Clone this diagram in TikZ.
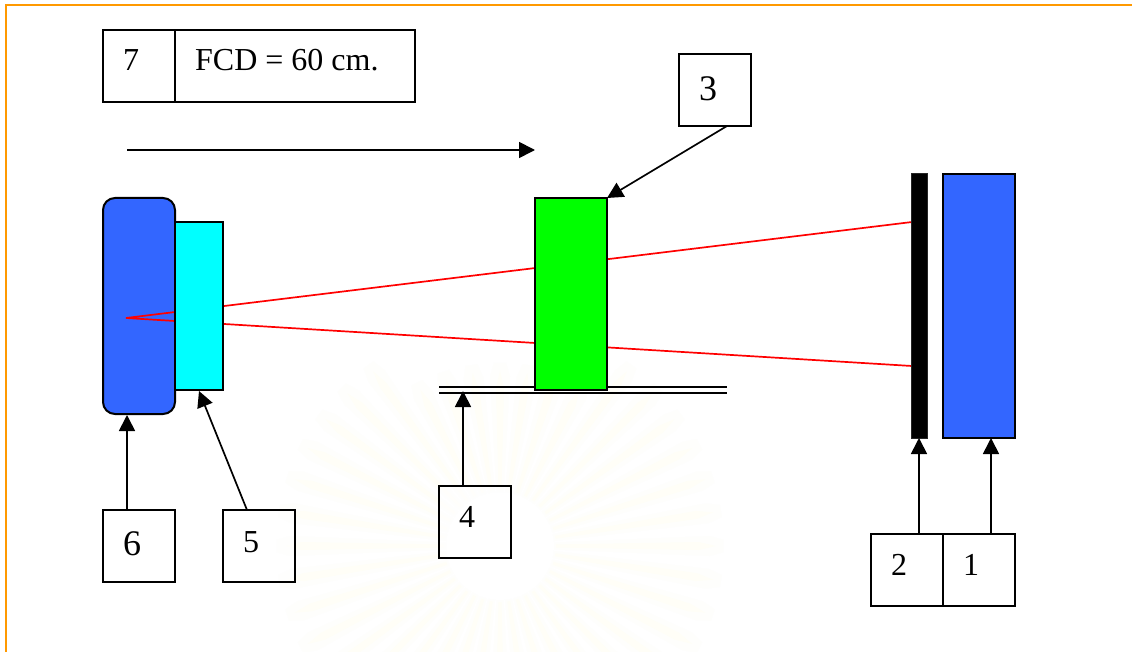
\documentclass[tikz,border=0pt]{standalone}
\usepackage{fontspec}
\setmainfont{Liberation Serif}
\usetikzlibrary{arrows.meta}
\definecolor{edgeorange}{RGB}{255,153,0}
\definecolor{royal}{RGB}{51,102,255}
\definecolor{beam}{RGB}{255,0,0}
\definecolor{aqua}{RGB}{0,255,255}
\definecolor{lime}{RGB}{0,255,0}
\definecolor{wmarkhalo}{RGB}{254,254,252}
\definecolor{wmark}{RGB}{255,254,247}
\tikzset{
  x=1pt,y=-1pt,
  part/.style={draw=black,line width=2pt,inner sep=0pt,outer sep=0pt},
  label box/.style={draw=black,line width=1.8pt,fill=white,fill opacity=0.6,text opacity=1,inner sep=0pt,outer sep=0pt,minimum width=72pt,minimum height=72pt},
  num/.style={font=\fontsize{32}{32}\selectfont,inner sep=0pt,anchor=base west},
  big num/.style={num,font=\fontsize{36}{36}\selectfont},
  ptr/.style={draw=black,line width=1.7pt,-{Triangle[length=16pt,width=16pt]}},
  ray/.style={draw=beam,line width=1.7pt},
  rail line/.style={draw=black,line width=2pt},
}
\begin{document}
\begin{tikzpicture}
\useasboundingbox (0,0) rectangle (1132,652);
\fill[white] (0,0) rectangle (1132,652);
% faint watermark
\begin{scope}[shift={(500,546)}]
\foreach \a in {0,9,...,351}{
  \pgfmathsetmacro{\ro}{1/sqrt((cos(\a)/225)^2+(sin(\a)/150)^2)}
  \pgfmathsetmacro{\rm}{\ro-14}
  \fill[wmarkhalo,rotate=\a] (54,-3.5) -- (\rm,-10) -- (\ro,-6) -- (\ro,6) -- (\rm,10) -- (54,3.5) -- cycle;
}
\foreach \a in {0,9,...,351}{
  \pgfmathsetmacro{\ro}{1/sqrt((cos(\a)/225)^2+(sin(\a)/150)^2)}
  \pgfmathsetmacro{\rm}{\ro-25}
  \fill[wmark,rotate=\a] (56,-1.5) -- (\rm,-4) -- (\ro-8,0) -- (\rm,4) -- (56,1.5) -- cycle;
}
\end{scope}
\draw[edgeorange,line width=2pt] (6,652) -- (6,5) -- (1132,5);
% source housing
\node[part,fill=royal,rounded corners=12pt,minimum width=72pt,minimum height=216pt] (tube) at (139,306) {};
% beams
\coordinate (src) at (126,318);
\coordinate (top end) at (912,222);
\coordinate (bot end) at (912,366);
\draw[ray] (top end) -- (src) -- (bot end);
% table rails
\node[inner sep=0pt,outer sep=0pt,minimum width=288pt,minimum height=6pt] (rail) at (583,390) {};
\draw[rail line] (rail.north west) -- (rail.north east);
\draw[rail line] (rail.south west) -- (rail.south east);
% parts
\node[part,fill=aqua,minimum width=48pt,minimum height=168pt] (filter) at (199,306) {};
\node[part,fill=lime,minimum width=72pt,minimum height=192pt] (phantom) at (571,294) {};
\node[part,fill=black,draw=black!85,line width=1pt,minimum width=15.5pt,minimum height=264pt] (film) at (919.5,306) {};
\node[part,fill=royal,minimum width=72pt,minimum height=264pt] (detector) at (979,306) {};
% label boxes
\node[label box,fill opacity=1] (b7) at (139,66) {};
\node[label box,fill opacity=1,minimum width=240pt] (bfcd) at (295,66) {};
\node[label box,fill opacity=1] (b3) at (715,90) {};
\node[label box,fill opacity=1] (b6) at (139,546) {};
\node[label box] (b5) at (259,546) {};
\node[label box] (b4) at (475,522) {};
\node[label box,fill opacity=1] (b2) at (907,570) {};
\node[label box,fill opacity=1] (b1) at (979,570) {};
% texts
\node[num] (t7) at (123,71) {7};
\node[num] (tfcd) at (195,71) {FCD = 60 cm.};
\node[big num] (t3) at (699,101) {3};
\node[big num] (t6) at (123,555) {6};
\node[num] (t5) at (243,552) {5};
\node[num] (t4) at (459,527) {4};
\node[num] (t2) at (891,575) {2};
\node[num] (t1) at (963,575) {1};
% connectors
\coordinate (dir start) at (127,150);
\coordinate (dir end) at (535,150);
\draw[ptr] (dir start) -- (dir end);
\draw[ptr] ([xshift=12pt]b3.south) -- (phantom.north east);
\draw[ptr] ([xshift=-12pt]b6.north) -- ([xshift=-12pt,yshift=-1pt]tube.south);
\draw[ptr] ([xshift=-12pt]b5.north) -- ([yshift=-1pt]filter.south);
\draw[ptr] ([xshift=-12pt]b4.north) -- ([xshift=-120pt,yshift=2pt]rail.south);
\draw[ptr] ([xshift=12pt]b2.north) -- ([xshift=-0.5pt]film.south);
\draw[ptr] ([xshift=12pt]b1.north) -- ([xshift=12pt]detector.south);
\end{tikzpicture}
\end{document}
